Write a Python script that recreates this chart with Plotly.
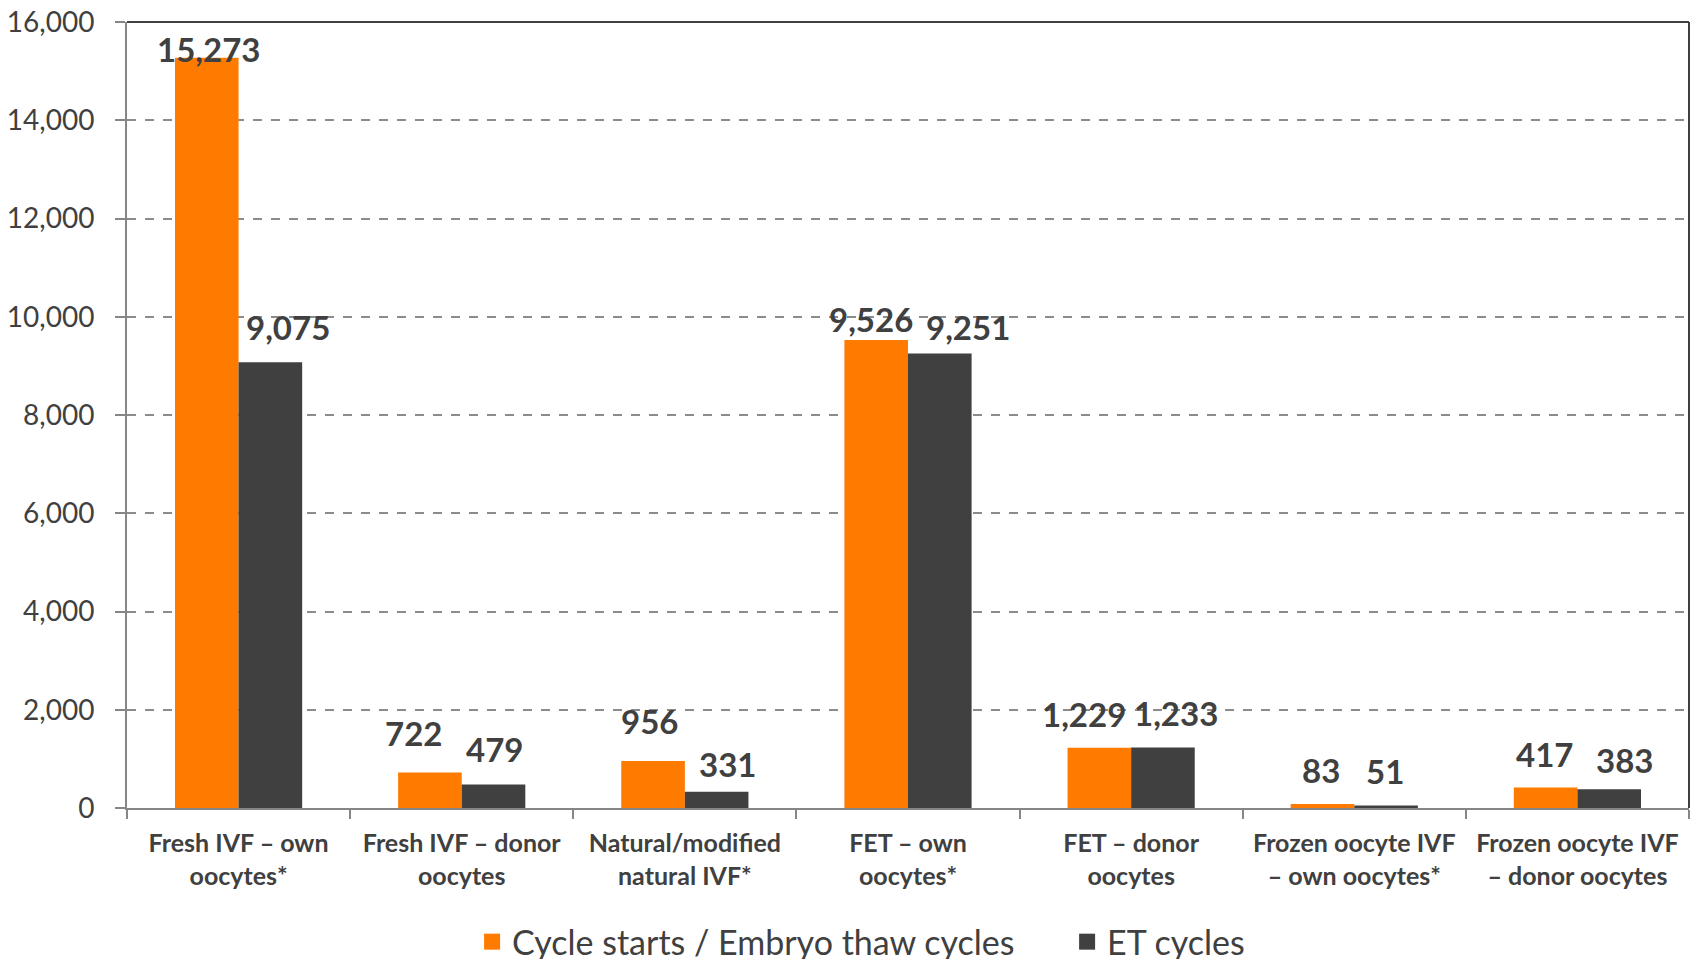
import plotly.graph_objects as go

# categories and values
categorias = [
    "Fresh IVF – own<br>oocytes*",
    "Fresh IVF – donor<br>oocytes",
    "Natural/modified<br>natural IVF*",
    "FET – own<br>oocytes*",
    "FET – donor<br>oocytes",
    "Frozen oocyte IVF<br>– own oocytes*",
    "Frozen oocyte IVF<br>– donor oocytes",
]
ciclos_inicio = [15273, 722, 956, 9526, 1229, 83, 417]
ciclos_et = [9075, 479, 331, 9251, 1233, 51, 383]
y_ticks = [0, 2000, 4000, 6000, 8000, 10000, 12000, 14000, 16000]

COR_LARANJA = "#FF7B00"
COR_CINZA = "#404040"
FONTE = "Lato"

# deslocamento (px) dos rótulos em relação ao topo de cada barra,
# imitando o posicionamento manual do original
MEIA_BARRA = 32
desloc_x_laranja = [2, -16, -3, -5, -15, -1, -1]
desloc_y_laranja = [9, 40, 40, 21, 34, 34, 34]
desloc_x_cinza = [17, 1, 11, 28, 13, -1, 15]
desloc_y_cinza = [35, 35, 28, 27, 34, 34, 29]

fig = go.Figure()
fig.add_trace(go.Bar(
    x=categorias, y=ciclos_inicio, name="Cycle starts / Embryo thaw cycles",
    marker_color=COR_LARANJA, marker_line_width=0, showlegend=False,
))
fig.add_trace(go.Bar(
    x=categorias, y=ciclos_et, name="ET cycles",
    marker_color=COR_CINZA, marker_line_width=0, showlegend=False,
))

# entradas de legenda com quadrado maior (uma legenda para cada série)
for nome, cor, leg in [("Cycle starts / Embryo thaw cycles", COR_LARANJA, "legend"),
                       ("ET cycles", COR_CINZA, "legend2")]:
    fig.add_trace(go.Scatter(
        x=[None], y=[None], mode="markers", name=nome, legend=leg,
        marker=dict(symbol="square", size=20, color=cor),
    ))

# rótulos de valor
for i, cat in enumerate(categorias):
    for valor, dx, dy, lado in [
        (ciclos_inicio[i], desloc_x_laranja[i], desloc_y_laranja[i], -1),
        (ciclos_et[i], desloc_x_cinza[i], desloc_y_cinza[i], 1),
    ]:
        fig.add_annotation(
            x=cat, y=valor, xref="x", yref="y", text=f"{valor:,}",
            showarrow=False, xanchor="center", yanchor="middle",
            xshift=lado * MEIA_BARRA + dx, yshift=dy,
            font=dict(family=FONTE, size=33, color=COR_CINZA, weight="bold"),
        )

estilo_legenda = dict(
    orientation="h", xref="container", yref="container",
    xanchor="left", y=0.026, yanchor="middle",
    font=dict(family=FONTE, size=34, color=COR_CINZA),
    itemsizing="trace",
)

fig.update_layout(
    width=1700, height=959,
    margin=dict(l=119, r=19, t=14, b=159, autoexpand=False),
    barmode="group", bargap=0.43, bargroupgap=0,
    plot_bgcolor="white", paper_bgcolor="white",
    font=dict(family=FONTE, color=COR_CINZA),
    legend=dict(estilo_legenda, x=0.273),
    legend2=dict(estilo_legenda, x=0.623),
    xaxis=dict(
        automargin=False,
        showline=True, linecolor="#868686", linewidth=2,
        ticks="outside", tickson="boundaries", ticklen=9,
        tickcolor="#868686", tickwidth=2, tickangle=0,
        tickfont=dict(family=FONTE, size=25, color=COR_CINZA, weight="bold"),
        ticklabelstandoff=12, ticklabeloverflow="allow",
    ),
    yaxis=dict(
        automargin=False,
        range=[0, 16000], tickvals=y_ticks, tickformat=",d",
        showline=True, linecolor="#868686", linewidth=2,
        ticks="outside", ticklen=10, tickcolor="#868686", tickwidth=2,
        tickfont=dict(family=FONTE, size=28, color=COR_CINZA),
        ticklabelstandoff=15, ticklabeloverflow="allow",
        showgrid=True, gridcolor="#8C8C8C", gridwidth=1.5, griddash="dash",
        zeroline=False,
    ),
    shapes=[
        dict(type="line", xref="paper", yref="paper", x0=0, x1=1, y0=1, y1=1,
             line=dict(color=COR_CINZA, width=2)),
        dict(type="line", xref="paper", yref="paper", x0=1, x1=1, y0=0, y1=1,
             line=dict(color=COR_CINZA, width=2)),
    ],
)

fig.write_html("out.html")
